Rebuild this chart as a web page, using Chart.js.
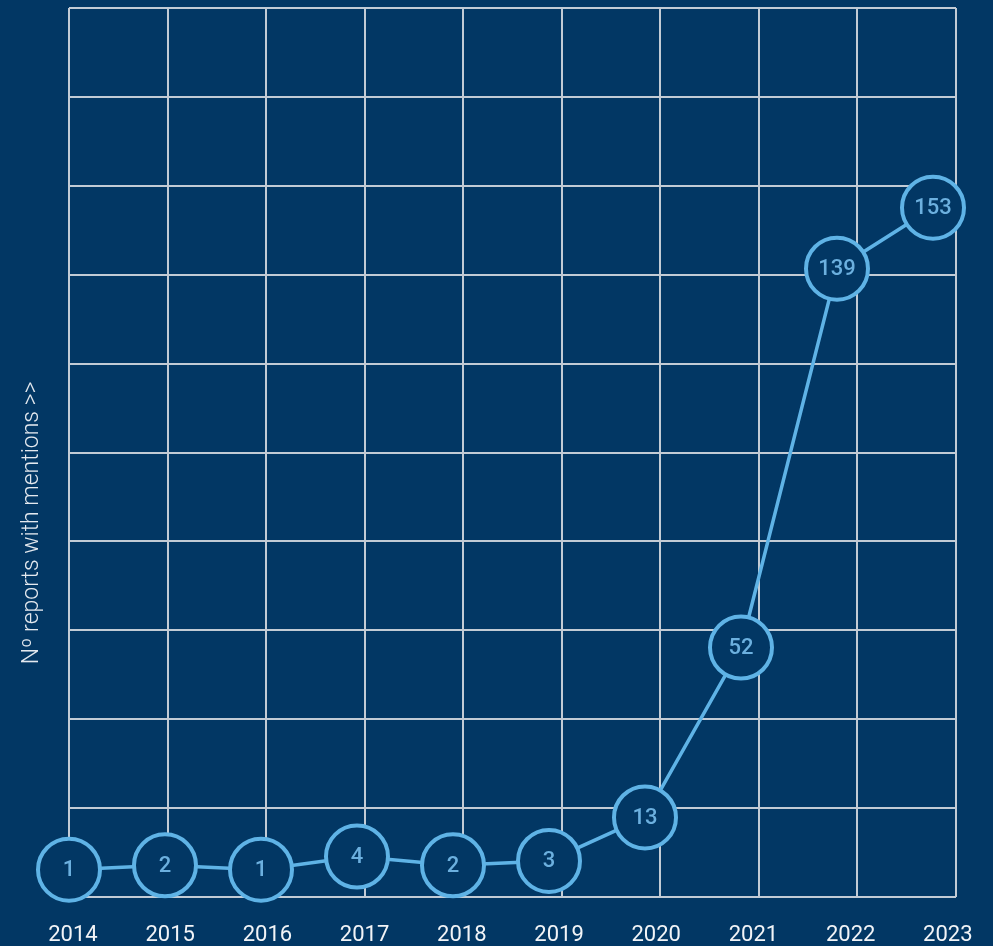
<!DOCTYPE html>
<html>
<head>
<meta charset="utf-8">
<script src="https://cdn.jsdelivr.net/npm/chart.js@4.4.1/dist/chart.umd.min.js"></script>
<style>
  html, body { margin: 0; padding: 0; background: #023764; }
  #wrap { width: 993px; height: 946px; }
</style>
</head>
<body>
<div id="wrap"><canvas id="c" width="993" height="946"></canvas></div>
<script>
// ---- data ----
const years = [2014, 2015, 2016, 2017, 2018, 2019, 2020, 2021, 2022, 2023];
const reports = [1, 2, 1, 4, 2, 3, 13, 52, 139, 153];
const yTitle = 'Nº reports with mentions >>';

const BG = '#023764';
const LINE = '#5fb3e6';
const LABEL = '#6cb0df';
const GRID = '#c2cbd5';

const points = years.map((y, i) => ({ x: y, y: reports[i] }));

const circleLabels = {
  id: 'circleLabels',
  afterDatasetsDraw(chart) {
    const meta = chart.getDatasetMeta(0);
    const ctx = chart.ctx;
    ctx.save();
    ctx.fillStyle = LABEL;
    ctx.font = '500 22px Roboto';
    ctx.textAlign = 'center';
    ctx.textBaseline = 'middle';
    meta.data.forEach((pt, i) => {
      ctx.fillText(String(reports[i]), pt.x, pt.y + 1);
    });
    ctx.restore();
  }
};

new Chart(document.getElementById('c'), {
  type: 'line',
  data: {
    datasets: [{
      data: points,
      xAxisID: 'x',
      yAxisID: 'y',
      borderColor: LINE,
      borderWidth: 3.5,
      pointRadius: 31,
      pointHoverRadius: 31,
      pointBorderWidth: 4,
      pointBorderColor: LINE,
      pointBackgroundColor: BG,
      tension: 0,
      clip: false
    }]
  },
  options: {
    responsive: false,
    animation: false,
    events: [],
    layout: { autoPadding: false, padding: { top: 8, right: 37, left: 0, bottom: 0 } },
    plugins: { legend: { display: false }, tooltip: { enabled: false } },
    scales: {
      gx: {
        type: 'linear', position: 'bottom', min: 0, max: 9,
        ticks: { display: false, stepSize: 1 },
        grid: { color: GRID, lineWidth: 2, drawTicks: false },
        border: { display: false },
        afterFit(s) { s.height = 0; }
      },
      xl: {
        type: 'linear', position: 'bottom', min: 2013.959, max: 2023.084,
        ticks: {
          stepSize: 1, includeBounds: false, maxRotation: 0, autoSkip: false,
          color: '#f2f4f7', font: { family: 'Roboto', size: 22 }, padding: 17,
          callback: (v) => (years.includes(v) ? String(v) : '')
        },
        grid: { display: false },
        border: { display: false },
        afterFit(s) { s.height = 49; }
      },
      x: {
        type: 'linear', display: false, min: 2014, max: 2023.2396
      },
      g: {
        type: 'linear', position: 'left', min: 0, max: 10,
        ticks: { display: false, stepSize: 1 },
        grid: { color: GRID, lineWidth: 2, drawTicks: false },
        border: { display: false },
        title: {
          display: true,
          text: yTitle + '\u2003\u2003\u2003\u2003\u2003\u2003',
          color: '#e4e9ef',
          font: { family: 'Roboto', size: 23, weight: '300' },
          padding: { top: 18, bottom: 0 }
        },
        afterFit(s) { s.width = 69; }
      },
      y: {
        type: 'linear', display: false, min: -5.28, max: 198.85
      }
    }
  },
  plugins: [circleLabels]
});
</script>
</body>
</html>
